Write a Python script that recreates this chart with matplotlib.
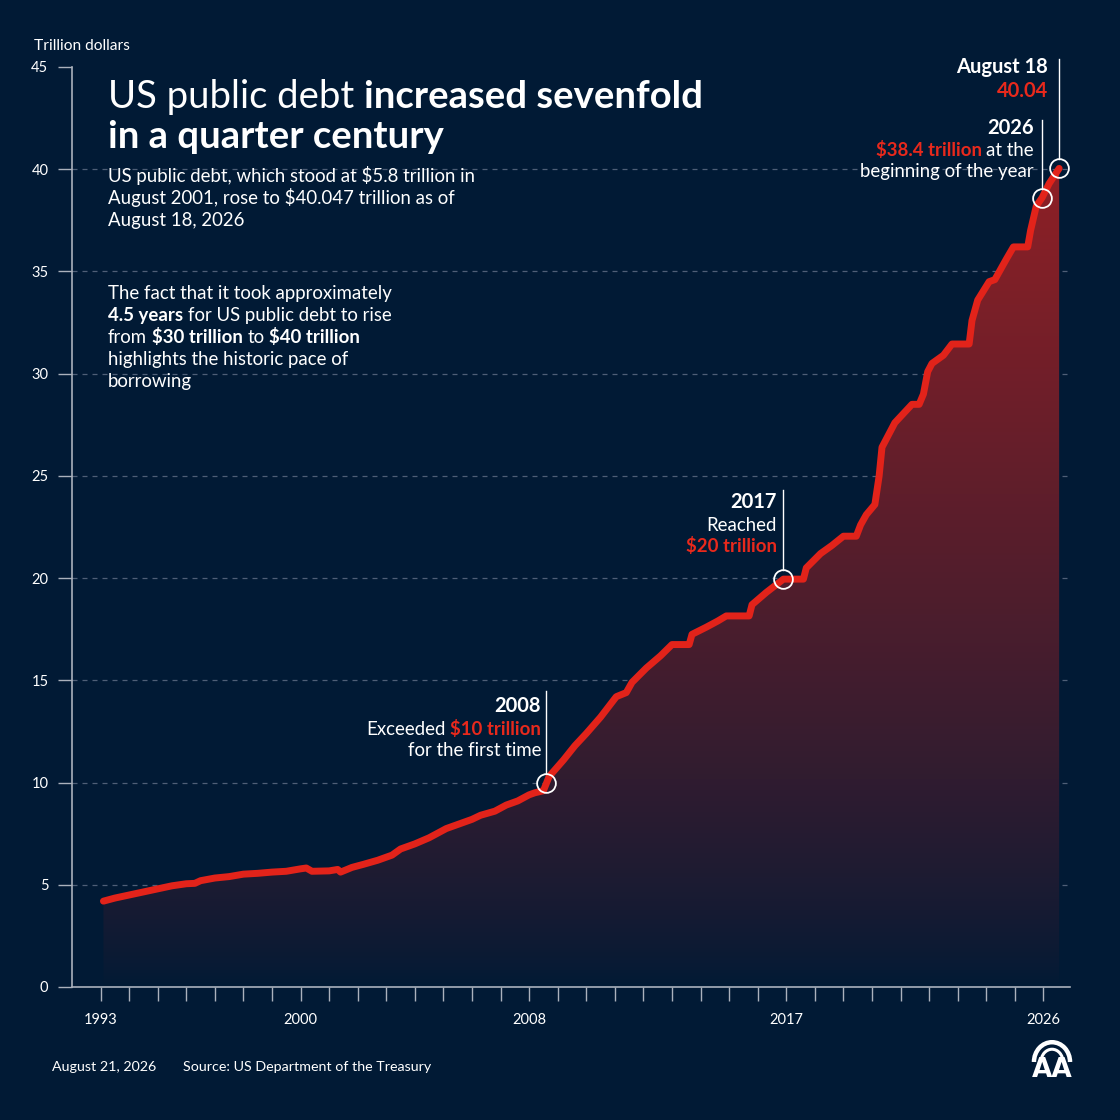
import matplotlib
matplotlib.use("Agg")
import matplotlib.pyplot as plt
import matplotlib.transforms as mtransforms
from matplotlib.patches import Arc
from matplotlib.colors import to_rgb
import numpy as np

plt.rcParams['font.family'] = ['Lato', 'DejaVu Sans']
plt.rcParams['text.parse_math'] = False

# US public debt, trillion dollars
years = [1993.1, 1993.5, 1994.0, 1994.5, 1995.0, 1995.5, 1996.0, 1996.3, 1996.5, 1997.0,
         1997.5, 1998.0, 1998.5, 1999.0, 1999.5, 2000.0, 2000.2, 2000.4, 2001.0, 2001.3,
         2001.4, 2001.8, 2002.2, 2002.7, 2003.2, 2003.5, 2004.0, 2004.5, 2005.1, 2005.5,
         2006.0, 2006.3, 2006.8, 2007.2, 2007.6, 2008.0, 2008.2, 2008.5, 2008.7, 2008.95,
         2009.2, 2009.6, 2010.0, 2010.5, 2011.05, 2011.4, 2011.6, 2012.1, 2012.6, 2013.0,
         2013.3, 2013.6, 2013.7, 2014.2, 2014.6, 2014.9, 2015.7, 2015.8, 2016.3, 2016.9,
         2017.1, 2017.6, 2017.7, 2018.2, 2018.6, 2019.0, 2019.45, 2019.6, 2019.8, 2020.1,
         2020.25, 2020.35, 2020.8, 2021.4, 2021.65, 2021.8, 2021.95, 2022.1, 2022.5, 2022.8,
         2023.4, 2023.5, 2023.7, 2024.1, 2024.3, 2024.7, 2024.95, 2025.45, 2025.55, 2025.75,
         2025.95, 2026.2, 2026.55]
debt = [4.2, 4.35, 4.5, 4.65, 4.8, 4.95, 5.05, 5.07, 5.2, 5.33,
        5.4, 5.52, 5.56, 5.62, 5.66, 5.78, 5.82, 5.66, 5.68, 5.75,
        5.62, 5.85, 6.0, 6.2, 6.45, 6.75, 7.0, 7.3, 7.75, 7.95,
        8.2, 8.4, 8.6, 8.9, 9.1, 9.4, 9.5, 9.6, 10.3, 10.7,
        11.1, 11.8, 12.4, 13.2, 14.2, 14.4, 14.9, 15.6, 16.2, 16.75,
        16.75, 16.75, 17.25, 17.6, 17.9, 18.15, 18.15, 18.7, 19.3, 19.95,
        19.95, 19.95, 20.5, 21.2, 21.6, 22.05, 22.05, 22.6, 23.1, 23.6,
        25.0, 26.4, 27.6, 28.5, 28.5, 29.0, 30.1, 30.5, 30.9, 31.45,
        31.45, 32.6, 33.6, 34.5, 34.6, 35.6, 36.2, 36.2, 37.0, 38.2,
        38.6, 39.3, 40.04]

# highlighted points and where their leader lines end
mark_x = [2008.6, 2016.9, 2025.95, 2026.55]
mark_y = [10.0, 19.95, 38.6, 40.04]
lead_top = [14.5, 24.3, 42.4, 45.4]

tick_years = list(range(1993, 2027))
labeled_years = [1993, 2000, 2008, 2017, 2026]

bg = '#011a35'
red = '#e2231a'
red_txt = '#e8291c'
white = '#ffffff'
axis_col = '#aab1bc'

W = H = 1120
fig = plt.figure(figsize=(11.2, 11.2), dpi=100, facecolor=bg)
ax = fig.add_axes([72 / W, 1 - 987 / H, (1070 - 72) / W, (987 - 67) / H])
ax.set_facecolor(bg)

# gradient area under the line
ny = 400
v = np.linspace(0, 45, ny)
a = np.clip(v / 40, 0, 1) ** 0.8
top_c = np.array(to_rgb('#8e2026'))
bg_c = np.array(to_rgb(bg))
grad = bg_c + (top_c - bg_c) * a[:, None]
im = ax.imshow(grad[:, None, :], extent=[1992, 2027, 0, 45], origin='lower',
               aspect='auto', zorder=1, interpolation='bilinear')
area = ax.fill_between(years, debt, 0, color='none', lw=0)
im.set_clip_path(area.get_paths()[0], ax.transData)

ax.plot(years, debt, color=red, lw=5, solid_joinstyle='round',
        solid_capstyle='round', zorder=3)

for y in range(5, 45, 5):
    ax.axhline(y, color='#4f5f77', lw=0.9, ls=(0, (4, 4)), zorder=0.5)

# markers with leader lines
for mx, my, lt in zip(mark_x, mark_y, lead_top):
    ax.plot([mx, mx], [my + 0.45, lt], color=white, lw=1, zorder=4, clip_on=False)
    ax.plot(mx, my, 'o', ms=13.5, mfc='none', mec=white, mew=1.3, zorder=5, clip_on=False)

ax.set_xlim(1992, 2026.93)
ax.set_ylim(0, 45)
ax.set_yticks(range(0, 50, 5))
ax.set_xticks(tick_years)
ax.set_xticklabels([str(y) if y in labeled_years else '' for y in tick_years])
ax.tick_params(axis='y', length=10, width=1, color=axis_col, labelcolor=white,
               labelsize=10.5, pad=7)
ax.tick_params(axis='x', length=10, width=1, color=axis_col, labelcolor=white,
               labelsize=10.5, pad=9)
for s in ['top', 'right']:
    ax.spines[s].set_visible(False)
for s in ['left', 'bottom']:
    ax.spines[s].set_color(axis_col)
    ax.spines[s].set_linewidth(1.2)

# text helpers (pixel positions, y measured from the top)
R = fig.canvas.get_renderer()
ID = mtransforms.IdentityTransform()


def rich(x, y, parts, size, ha='left'):
    objs = []
    for s, b, c in parts:
        objs.append(fig.text(0, 0, s, fontsize=size, color=c, va='baseline',
                             fontweight='bold' if b else 'normal', transform=ID))
    t1 = fig.text(0, 0, 'a a', fontsize=size, transform=ID)
    t2 = fig.text(0, 0, 'aa', fontsize=size, transform=ID)
    sp = t1.get_window_extent(R).width - t2.get_window_extent(R).width
    t1.remove()
    t2.remove()
    widths = [o.get_window_extent(R).width for o in objs]
    total = sum(widths) + sp * (len(objs) - 1)
    x0 = x - total if ha == 'right' else x
    for o, w in zip(objs, widths):
        o.set_position((x0, H - y))
        x0 += w + sp


rich(34, 50, [('Trillion dollars', False, white)], 11.2)

rich(108, 108, [('US public debt', False, white), ('increased sevenfold', True, white)], 27.5)
rich(108, 148, [('in a quarter century', True, white)], 27.5)

sub = ['US public debt, which stood at $5.8 trillion in',
       'August 2001, rose to $40.047 trillion as of',
       'August 18, 2026']
for i, line in enumerate(sub):
    rich(108, 182 + 22 * i, [(line, False, white)], 13.4)

para = [[('The fact that it took approximately', False, white)],
        [('4.5 years', True, white), ('for US public debt to rise', False, white)],
        [('from', False, white), ('$30 trillion', True, white), ('to', False, white),
         ('$40 trillion', True, white)],
        [('highlights the historic pace of', False, white)],
        [('borrowing', False, white)]]
for i, line in enumerate(para):
    rich(108, 299 + 22 * i, line, 13.4)

rich(541, 712, [('2008', True, white)], 14.5, 'right')
rich(541, 735, [('Exceeded', False, white), ('$10 trillion', True, red_txt)], 13.4, 'right')
rich(541, 756, [('for the first time', False, white)], 13.4, 'right')

rich(777, 508, [('2017', True, white)], 14.5, 'right')
rich(777, 531, [('Reached', False, white)], 13.4, 'right')
rich(777, 552, [('$20 trillion', True, red_txt)], 13.4, 'right')

rich(1048, 73, [('August 18', True, white)], 14.5, 'right')
rich(1048, 97, [('40.04', True, red_txt)], 14.5, 'right')

rich(1034, 134, [('2026', True, white)], 14.5, 'right')
rich(1034, 156, [('$38.4 trillion', True, red_txt), ('at the', False, white)], 13.4, 'right')
rich(1034, 177, [('beginning of the year', False, white)], 13.4, 'right')

rich(52, 1071, [('August 21, 2026', False, white)], 10.3)
rich(183, 1071, [('Source: US Department of the Treasury', False, white)], 10.3)

# agency logo
lax = fig.add_axes([1030 / W, 1 - 1084 / H, 44 / W, 44 / H])
lax.set_xlim(0, 1)
lax.set_ylim(0, 1)
lax.axis('off')
lax.add_patch(Arc((0.5, 0.5), 0.82, 0.9, theta1=0, theta2=180, color=white, lw=3.2))
lax.add_patch(Arc((0.5, 0.5), 0.5, 0.58, theta1=0, theta2=180, color=white, lw=2.2))
lax.text(0.5, 0.02, 'AA', ha='center', va='bottom', fontsize=19, fontweight='bold',
         color=white, family='DejaVu Sans Condensed')

fig.savefig('out.png', dpi=100, facecolor=bg)
